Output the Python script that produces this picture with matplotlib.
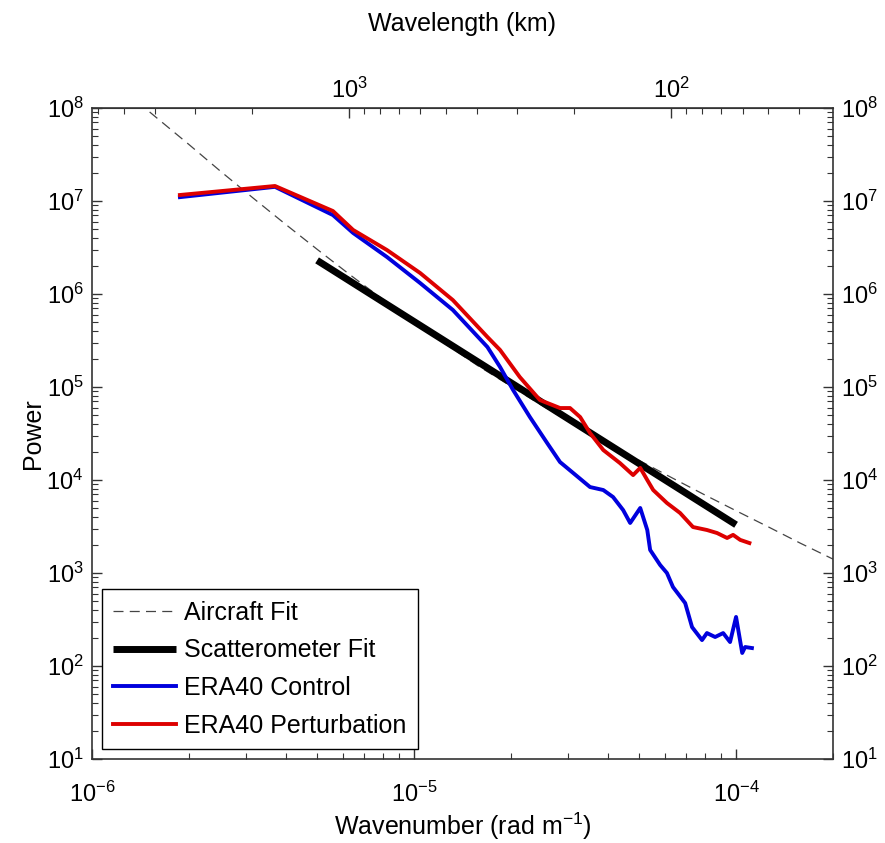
import numpy as np
import matplotlib
matplotlib.use("Agg")
import matplotlib.pyplot as plt
from matplotlib.ticker import LogLocator, NullFormatter, FixedLocator

plt.rcParams['font.family'] = ['Liberation Sans', 'DejaVu Sans']
plt.rcParams['mathtext.fontset'] = 'custom'
plt.rcParams['mathtext.rm'] = 'Liberation Sans'
plt.rcParams['mathtext.it'] = 'Liberation Sans:italic'

# wavenumber (rad/m) and power
k_model = [1.875e-6, 3.70e-6, 5.60e-6, 6.47e-6, 8.24e-6, 1.045e-5, 1.32e-5, 1.69e-5,
           1.85e-5, 2.13e-5, 2.46e-5, 2.84e-5, 3.05e-5, 3.28e-5, 3.52e-5, 3.87e-5,
           4.36e-5, 4.79e-5, 5.04e-5, 5.30e-5, 5.53e-5, 6.10e-5, 6.70e-5, 7.35e-5,
           8.12e-5, 8.73e-5, 9.38e-5, 9.79e-5, 1.03e-4, 1.10e-4]
p_pert = [1.16e7, 1.45e7, 7.8e6, 4.88e6, 2.97e6, 1.68e6, 8.6e5, 3.45e5,
          2.5e5, 1.28e5, 7.24e4, 5.94e4, 5.94e4, 4.75e4, 3.2e4, 2.1e4,
          1.52e4, 1.13e4, 1.35e4, 1.0e4, 7.8e3, 5.66e3, 4.42e3, 3.12e3,
          2.9e3, 2.69e3, 2.38e3, 2.57e3, 2.27e3, 2.1e3]

k_ctrl = [1.875e-6, 3.70e-6, 5.60e-6, 6.47e-6, 8.24e-6, 1.045e-5, 1.32e-5, 1.69e-5,
          1.85e-5, 2.03e-5, 2.29e-5, 2.59e-5, 2.84e-5, 3.12e-5, 3.52e-5, 3.87e-5,
          4.15e-5, 4.46e-5, 4.69e-5, 5.04e-5, 5.30e-5, 5.41e-5, 5.81e-5, 6.10e-5,
          6.37e-5, 6.95e-5, 7.30e-5, 7.84e-5, 8.12e-5, 8.61e-5, 9.12e-5, 9.58e-5,
          1.0e-4, 1.045e-4, 1.067e-4, 1.12e-4]
p_ctrl = [1.10e7, 1.42e7, 7.06e6, 4.53e6, 2.5e6, 1.31e6, 6.73e5, 2.69e5,
          1.64e5, 9.3e4, 4.75e4, 2.5e4, 1.56e4, 1.19e4, 8.4e3, 7.8e3,
          6.56e3, 4.75e3, 3.45e3, 5.0e3, 2.9e3, 1.77e3, 1.22e3, 1.0e3,
          706, 475, 262, 190, 226, 205, 226, 181,
          337, 138, 160, 156]

k_scat = [5.0e-6, 1.0e-4]
p_scat = [2.3e6, 3.3e3]

# aircraft fit (k^-3 bending to k^-5/3)
k_air = [1.51e-6, 2.0e-6, 2.51e-6, 3.16e-6, 3.98e-6, 5.01e-6, 6.31e-6, 7.94e-6,
         1.0e-5, 1.26e-5, 1.58e-5, 2.0e-5, 2.51e-5, 3.16e-5, 3.98e-5, 5.01e-5,
         6.31e-5, 7.94e-5, 1.0e-4, 1.26e-4, 1.58e-4, 2.0e-4]
p_air = [9.06e7, 4.05e7, 2.08e7, 1.08e7, 5.66e6, 3.01e6, 1.62e6, 8.92e5,
         5.01e5, 2.87e5, 1.69e5, 1.02e5, 6.25e4, 3.92e4, 2.50e4, 1.62e4,
         1.06e4, 7.0e3, 4.67e3, 3.13e3, 2.1e3, 1.41e3]

x_ticks = [1e-6, 1e-5, 1e-4]
y_ticks = [1e1, 1e2, 1e3, 1e4, 1e5, 1e6, 1e7, 1e8]
top_ticks = [1e2, 1e3]

fig = plt.figure(figsize=(8.85, 8.43), dpi=100)
ax = fig.add_axes([92/885, (843-759)/843, (833-92)/885, (759-108)/843])

ax.plot(k_air, p_air, '--', color='#444444', lw=0.9, dashes=(8, 5), label='Aircraft Fit')
ax.plot(k_scat, p_scat, '-', color='black', lw=5, solid_capstyle='butt', label='Scatterometer Fit')
ax.plot(k_ctrl, p_ctrl, '-', color='#0000dd', lw=2.8, label='ERA40 Control')
ax.plot(k_model, p_pert, '-', color='#dd0000', lw=2.8, label='ERA40 Perturbation')

ax.set_xscale('log')
ax.set_yscale('log')
ax.set_xlim(1e-6, 2e-4)
ax.set_ylim(1e1, 1e8)

ax.xaxis.set_major_locator(FixedLocator(x_ticks))
ax.yaxis.set_major_locator(FixedLocator(y_ticks))
ax.yaxis.set_minor_locator(LogLocator(base=10, subs=np.arange(2, 10), numticks=20))
ax.xaxis.set_minor_formatter(NullFormatter())
ax.yaxis.set_minor_formatter(NullFormatter())

for s in ax.spines.values():
    s.set_color('#333333')
    s.set_linewidth(1.2)

ax.tick_params(which='both', direction='in', top=False, right=True,
               labelright=True, colors='#333333', labelcolor='black',
               labelsize=17)
ax.tick_params(which='major', length=7, width=1)
ax.tick_params(which='minor', length=4, width=0.8)
ax.tick_params(axis='x', pad=16)
ax.tick_params(axis='y', pad=6)

sec = ax.secondary_xaxis('top', functions=(lambda k: 2*np.pi/np.maximum(k, 1e-30)/1e3,
                                           lambda w: 2*np.pi/np.maximum(w, 1e-30)/1e3))
sec.xaxis.set_major_locator(FixedLocator(top_ticks))
sec.xaxis.set_minor_formatter(NullFormatter())
sec.tick_params(which='both', direction='in', colors='#333333', labelcolor='black',
                labelsize=17, pad=4)
sec.tick_params(which='major', length=7, width=1)
sec.tick_params(which='minor', length=4, width=0.8)
sec.spines['top'].set_color('#333333')
fig.text(462/885, 1 - 24/843, 'Wavelength (km)', fontsize=18, ha='center', va='center')

ax.set_xlabel('Wavenumber (rad m$^{-1}$)', fontsize=18)
ax.xaxis.set_label_coords(0.5, -0.079)
ax.set_ylabel('Power', fontsize=18)
ax.yaxis.set_label_coords(-0.064, 0.5)

leg = ax.legend(loc='lower left', fontsize=18, frameon=True, fancybox=False,
                edgecolor='black', borderaxespad=0.4, handlelength=2.5,
                handletextpad=0.35, labelspacing=0.55, borderpad=0.45)
leg.get_frame().set_linewidth(1.0)
leg.get_frame().set_alpha(1)

fig.savefig('out.png', dpi=100)
